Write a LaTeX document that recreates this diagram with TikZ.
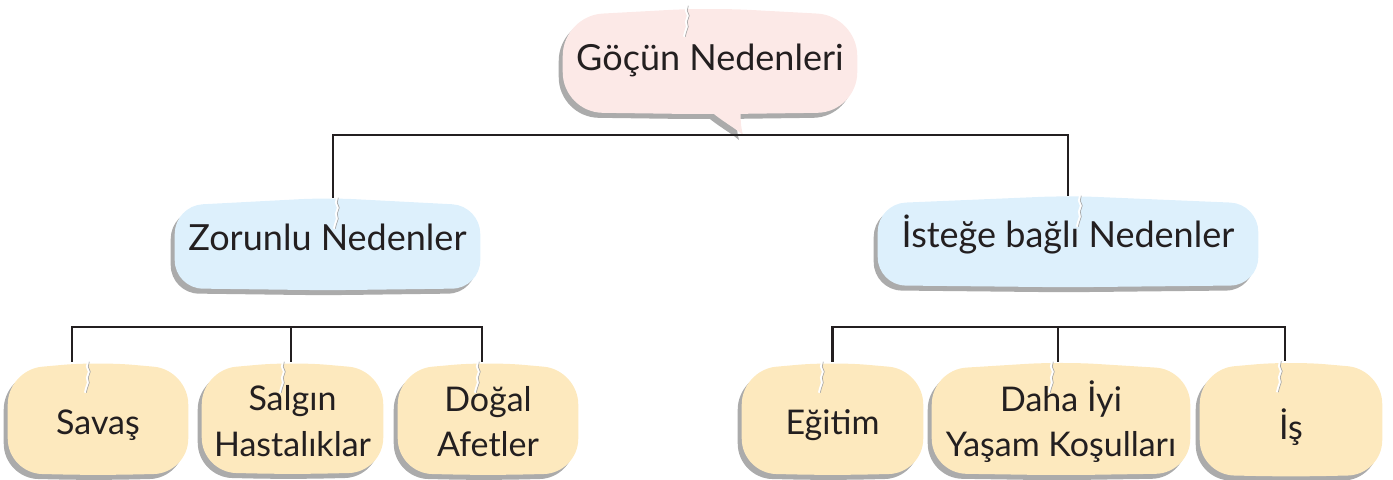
\documentclass[tikz,border=0pt]{standalone}
\usepackage{fontspec}
\setmainfont{Lato}
\usetikzlibrary{backgrounds}
\definecolor{pinkc}{HTML}{FCE9E7}
\definecolor{bluec}{HTML}{DDF0FC}
\definecolor{yellc}{HTML}{FDE9BE}
\definecolor{shadc}{HTML}{ABABAB}
\definecolor{inkc}{HTML}{231F20}
% #1 node, #2 vertical offset of the text (px) inside the box
\newcommand\blobpath[2]{([shift={(0,{8-(#2)})}]#1.north west) -- ([shift={(0,{-(#2)})}]#1.north) -- ([shift={(0,{8-(#2)})}]#1.north east) -- ([shift={(0,{-(#2)})}]#1.south east) -- ([shift={(0,{2-(#2)})}]#1.south) -- ([shift={(0,{-(#2)})}]#1.south west) -- cycle}
\newcommand\blob[4]{%
  \fill[shadc, shadowshift, rounded corners=#3] \blobpath{#1}{#4};
  \fill[#2, rounded corners=#3] \blobpath{#1}{#4};}
\newcommand\crack[1]{%
  \draw[crackw] #1 -- ++(-1,5) -- ++(2,5) -- ++(-2,6) -- ++(1,5) -- ++(-2,6) -- ++(-1,4);
  \draw[crackg] #1 ++(1.3,0) -- ++(-1,5) -- ++(2,5) -- ++(-2,6) -- ++(1,5) -- ++(-2,6) -- ++(-1,4);}
\begin{document}
\begin{tikzpicture}[x=0.75pt,y=-0.75pt,
  box/.style={inner sep=0pt, align=center, text=inkc},
  big/.style={box, font=\fontsize{27}{32}\selectfont},
  small/.style={box, font=\fontsize{25.5}{34}\selectfont},
  conn/.style={draw=inkc, line width=2.2pt},
  shadowshift/.style={transform canvas={xshift=-3pt,yshift=-3.75pt}},
  crackw/.style={draw=white, line width=1.6pt},
  crackg/.style={draw=gray!70, line width=0.5pt}]
\useasboundingbox (0,0) rectangle (1393,479);

% nodes (each node is its box; text offset noted in the blob call)
\node[big, minimum width=220.5pt, minimum height=78pt] (root) at (710,60) {Göçün Nedenleri};
\node[big, minimum width=228.75pt, minimum height=67.5pt] (zor) at (327.5,237) {Zorunlu Nedenler};
\node[big, minimum width=285pt, minimum height=66.75pt] (ist) at (1068,234.5) {İsteğe bağlı Nedenler};
\node[small, minimum width=135pt, minimum height=83.25pt] (sav) at (98,425.5) {Savaş};
\node[small, minimum width=135.75pt, minimum height=82.5pt] (sal) at (292.5,421) {Salgın\\Hastalıklar};
\node[small, minimum width=135pt, minimum height=83.25pt] (dog) at (488,421.5) {Doğal\\Afetler};
\node[small, minimum width=135.75pt, minimum height=83.25pt] (egi) at (832.5,425.5) {Eğitim};
\node[small, minimum width=193.5pt, minimum height=83.25pt] (dah) at (1061,421.5) {Daha İyi\\Yaşam Koşulları};
\node[small, minimum width=136.5pt, minimum height=84.75pt] (is) at (1291,427) {İş};

\coordinate (tip) at (743,135);
\coordinate (lb) at (291,327);
\coordinate (rb) at (1058,327);

% shapes
\begin{pgfonlayer}{background}
  \fill[shadc, shadowshift, rounded corners=30pt] \blobpath{root}{0};
  \fill[shadc, shadowshift] (700,100) .. controls (712,116) and (730,124) .. (tip) .. controls (740,124) and (740,112) .. (742,100) -- cycle;
  \fill[pinkc, rounded corners=30pt] \blobpath{root}{0};
  \fill[pinkc] (700,100) .. controls (712,116) and (730,124) .. (tip) .. controls (740,124) and (740,112) .. (742,100) -- cycle;
  \blob{zor}{bluec}{21pt}{-6}
  \blob{ist}{bluec}{21pt}{-6}
  \blob{sav}{yellc}{26pt}{8}
  \blob{sal}{yellc}{26pt}{4}
  \blob{dog}{yellc}{26pt}{4}
  \blob{egi}{yellc}{26pt}{8}
  \blob{dah}{yellc}{26pt}{4}
  \blob{is}{yellc}{26pt}{9}
\end{pgfonlayer}

% connectors
\draw[conn] ([shift={(5.5,6)}]zor.north) |- (tip) -| ([shift={(0,6)}]ist.north);
\draw[conn] ([shift={(-26,-8)}]sav.north) |- (lb) -| ([shift={(-6,-4)}]dog.north);
\draw[conn] ([shift={(-1.5,-4)}]sal.north) -- (lb);
\draw[conn] ([shift={(0,-8)}]egi.north) |- (rb) -| ([shift={(-6,-9)}]is.north);
\draw[conn] ([shift={(-3,-4)}]dah.north) -- (rb);

% cracks
\crack{([shift={(-23,-2)}]root.north)}
\crack{([shift={(9.5,6)}]zor.north)}
\crack{([shift={(12,6)}]ist.north)}
\crack{([shift={(-10,-8)}]sav.north)}
\crack{([shift={(-9.5,-4)}]sal.north)}
\crack{([shift={(-10,-4)}]dog.north)}
\crack{([shift={(-10.5,-8)}]egi.north)}
\crack{([shift={(-9,-4)}]dah.north)}
\crack{([shift={(-11,-9)}]is.north)}
\end{tikzpicture}
\end{document}
